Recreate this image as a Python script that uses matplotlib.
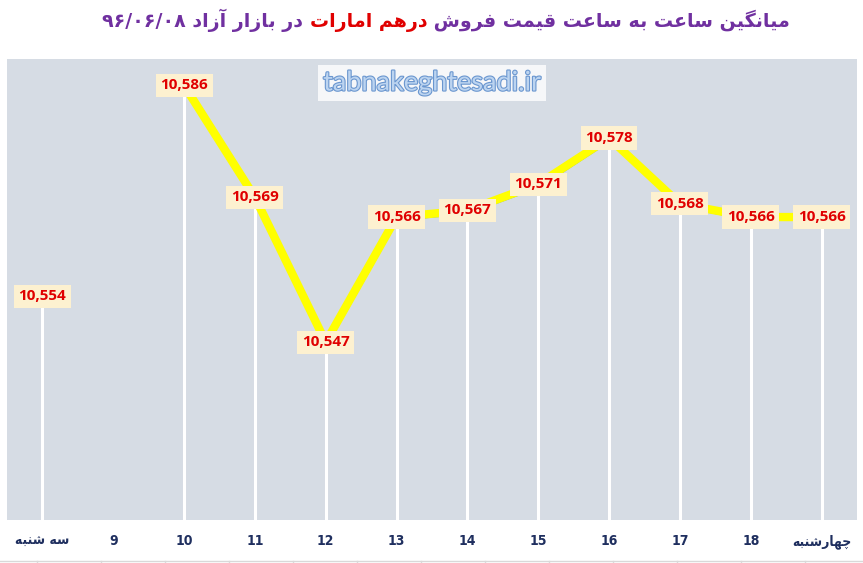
import numpy as np
import matplotlib.pyplot as plt
import matplotlib.patheffects as pe
from matplotlib.transforms import offset_copy
from matplotlib.lines import Line2D

hours = ['سه شنبه', '9', '10', '11', '12', '13', '14', '15', '16', '17', '18', 'چهارشنبه']
prices = [10554, np.nan, 10586, 10569, 10547, 10566, 10567, 10571, 10578, 10568, 10566, 10566]

title_right = 'میانگین ساعت به ساعت قیمت فروش'
title_red = 'درهم امارات'
title_left = 'در بازار آزاد'
title_date = '۹۶/۰۶/۰۸'

# matplotlib has no arabic shaping, so do it by hand
# letter: (isolated, final, initial, medial)
FORMS = {
    'ا': ('\uFE8D', '\uFE8E', None, None),
    'آ': ('\uFE81', '\uFE82', None, None),
    'د': ('\uFEA9', '\uFEAA', None, None),
    'ر': ('\uFEAD', '\uFEAE', None, None),
    'ز': ('\uFEAF', '\uFEB0', None, None),
    'و': ('\uFEED', '\uFEEE', None, None),
    'ب': ('\uFE8F', '\uFE90', '\uFE91', '\uFE92'),
    'ت': ('\uFE95', '\uFE96', '\uFE97', '\uFE98'),
    'س': ('\uFEB1', '\uFEB2', '\uFEB3', '\uFEB4'),
    'ش': ('\uFEB5', '\uFEB6', '\uFEB7', '\uFEB8'),
    'ع': ('\uFEC9', '\uFECA', '\uFECB', '\uFECC'),
    'ف': ('\uFED1', '\uFED2', '\uFED3', '\uFED4'),
    'ق': ('\uFED5', '\uFED6', '\uFED7', '\uFED8'),
    'م': ('\uFEE1', '\uFEE2', '\uFEE3', '\uFEE4'),
    'ن': ('\uFEE5', '\uFEE6', '\uFEE7', '\uFEE8'),
    'ه': ('\uFEE9', '\uFEEA', '\uFEEB', '\uFEEC'),
    'ی': ('\uFBFC', '\uFBFD', '\uFBFE', '\uFBFF'),
    'گ': ('\uFB92', '\uFB93', '\uFB94', '\uFB95'),
    'چ': ('\uFB7A', '\uFB7B', '\uFB7C', '\uFB7D'),
}


def rtl(s):
    if not any(ch in FORMS for ch in s):
        return s  # plain numbers stay as they are
    out = []
    for i, ch in enumerate(s):
        if ch not in FORMS:
            out.append(ch)
            continue
        prev = s[i - 1] if i > 0 else ''
        nxt = s[i + 1] if i + 1 < len(s) else ''
        jp = prev in FORMS and FORMS[prev][2] is not None
        jn = FORMS[ch][2] is not None and nxt in FORMS
        iso, fin, ini, med = FORMS[ch]
        out.append(med if (jp and jn) else fin if jp else ini if jn else iso)
    return ''.join(out)[::-1]


fig = plt.figure(figsize=(8.63, 5.63), dpi=100)
ax = fig.add_axes([7 / 863, 1 - 520 / 563, 850 / 863, 461 / 563])
ax.set_facecolor('#d6dce4')

x = np.arange(len(hours))
y = np.array(prices, dtype=float)
ymin, ymax = 10520, 10590

ok = ~np.isnan(y)
ax.vlines(x[ok], ymin, y[ok], color='white', lw=2.2, zorder=1)

shadow = offset_copy(ax.transData, fig=fig, x=1, y=-2.5, units='dots')
ax.plot(x, y, color='#5b9bd5', lw=2, transform=shadow, zorder=2, solid_joinstyle='round')
ax.plot(x, y, color='#ffff00', lw=6, zorder=3, solid_joinstyle='round')

for xi, v in zip(x[ok], y[ok]):
    ax.text(xi, v, f'{int(v):,}', ha='center', va='center', color='#e00000',
            fontsize=11, fontweight='bold', family='Open Sans', zorder=5,
            bbox=dict(boxstyle='square,pad=0.3', fc='#fdf1d0', ec='none'))

ax.set_xlim(-0.5, len(hours) - 0.5)
ax.set_ylim(ymin, ymax)
ax.set_yticks([])
ax.set_xticks(x)
ax.set_xticklabels([rtl(h) for h in hours], color='#1f2f5f', fontweight='bold',
                   fontsize=10, fontstretch='condensed',
                   family=['DejaVu Sans'])
ax.tick_params(axis='x', length=0, pad=10)
for s in ax.spines.values():
    s.set_visible(False)

# watermark
fig.text(432 / 863, 1 - 83 / 563, 'tabnakeghtesadi.ir', ha='center', va='center',
         fontsize=19.5, color='#bcd4f0', family='Lato',
         path_effects=[pe.withStroke(linewidth=1.6, foreground='#6a96cf')],
         bbox=dict(boxstyle='square,pad=0.2', fc='white', ec='none', alpha=0.8))

# title in three colored pieces, right to left
tkw = dict(fontsize=13.7, fontweight='bold', family='DejaVu Sans', va='baseline')
t1 = fig.text(0, 0, ' ' + rtl(title_right), color='#7030a0', ha='right', **tkw)
t2 = fig.text(0, 0, rtl(title_red), color='#e00000', ha='right', **tkw)
t3 = fig.text(0, 0, title_date + ' ' + rtl(title_left) + ' ', color='#7030a0', ha='right', **tkw)
fig.canvas.draw()
r = fig.canvas.get_renderer()
w1 = t1.get_window_extent(r).width
w2 = t2.get_window_extent(r).width
w3 = t3.get_window_extent(r).width
right = 446 + (w1 + w2 + w3) / 2
base = 1 - 27 / 563
t1.set_position((right / 863, base))
t2.set_position(((right - w1) / 863, base))
t3.set_position(((right - w1 - w2) / 863, base))

# page border line below the chart
fig.add_artist(Line2D([0, 1], [1 - 560.5 / 563] * 2, transform=fig.transFigure, color='#d9d9d9', lw=1))
for px in np.arange(37, 863, 64):
    fig.add_artist(Line2D([px / 863] * 2, [0, 1 - 560.5 / 563], transform=fig.transFigure,
                          color='#d9d9d9', lw=1))

fig.savefig('out.png', dpi=100)
